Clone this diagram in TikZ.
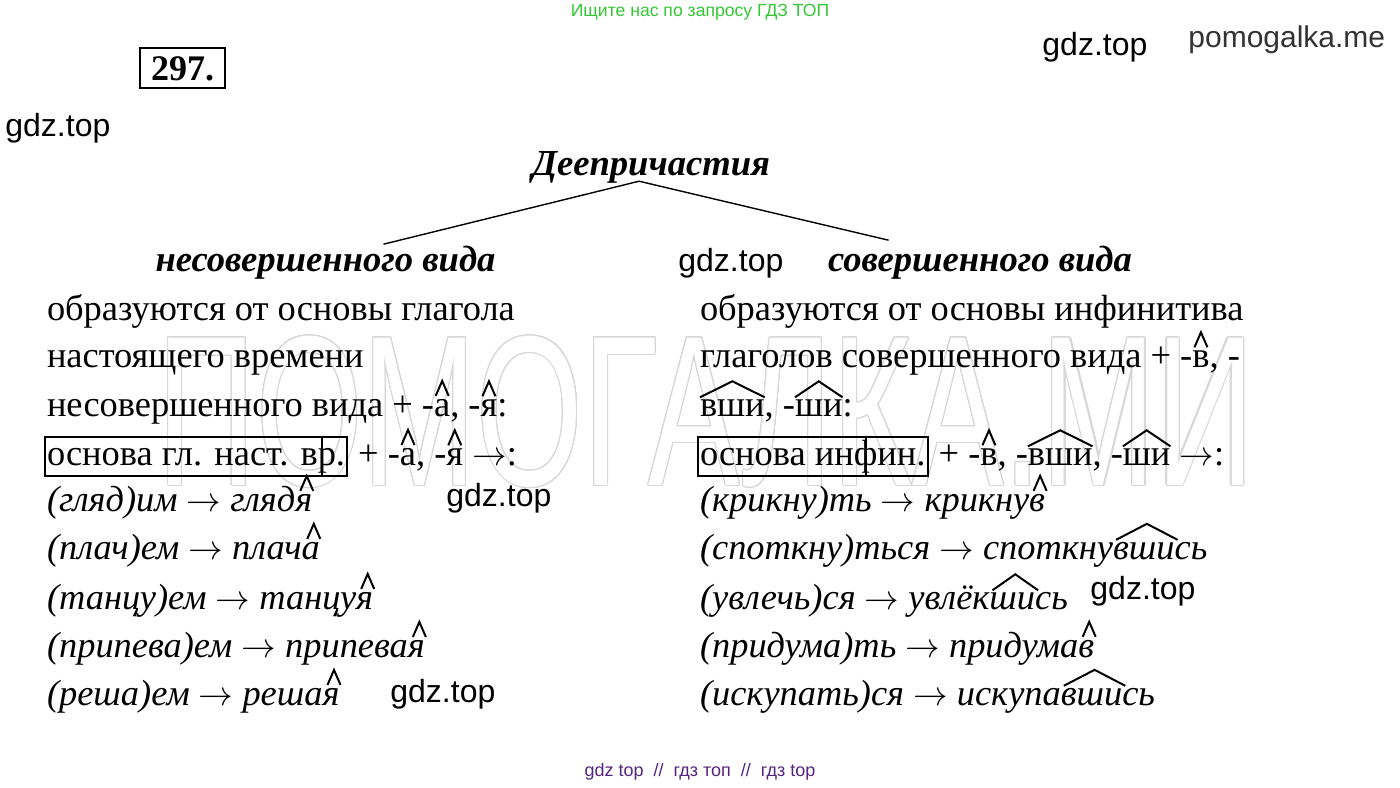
\documentclass[tikz,border=0pt]{standalone}
\usepackage{fontspec}
\setmainfont{Liberation Serif}
\newfontfamily\gdzfont{Liberation Sans}
\newfontfamily\wmfont[FakeStretch=0.64]{Liberation Sans}
\usepackage[copies]{contour}
\contourlength{0.55pt}
\contournumber{24}
\usepackage{tikz}
\usetikzlibrary{calc,fit,positioning}
\definecolor{gdzgreen}{RGB}{52,199,52}
\definecolor{gdzpurple}{RGB}{84,36,128}
\definecolor{wmgray}{RGB}{215,215,215}

% caret over a one-letter suffix
\newcommand\hatmark[2][0]{\draw[markline] ($(#2.north)+(#1,0)$) ++(-6.5,-3) -- ++(6.5,-15) -- ++(6.5,15);}
% roof over a longer suffix
\newcommand\roofmark[2][0]{\draw[markline] ($(#2.north west)+(#1,-2)$) -- ($(#2.north)+(#1,-18)$) -- ($(#2.north east)+(#1,-2)$);}
\newcommand\arr{$\rightarrow$}

\begin{document}
\begin{tikzpicture}[x=0.5pt,y=-0.5pt]
  \tikzstyle{body} = [font=\fontsize{18.2}{22}\selectfont,inner sep=0pt,outer sep=0pt,anchor=base west]
  \tikzstyle{ex} = [body,font=\fontsize{18.2}{22}\selectfont\itshape]
  \tikzstyle{head} = [font=\fontsize{18.3}{22}\selectfont\bfseries\itshape,inner sep=0pt,anchor=base]
  \tikzstyle{framed} = [body,text height=13pt,text depth=4.6pt]
  \tikzstyle{frame} = [draw,line width=1pt,inner sep=1pt]
  \tikzstyle{gdz} = [font=\gdzfont\fontsize{16}{18}\selectfont,inner sep=0pt,anchor=west]
  \tikzstyle{markline} = [line width=1pt]
  \tikzstyle{wm} = [font=\wmfont\fontsize{107}{110}\selectfont,text=white,inner sep=0pt]
  %
  \useasboundingbox (0,0) rectangle (1400,787);
  % Watermark behind the text.
  \node[wm] (wmark) at (706,412) {\contour{wmgray}{ПОМОГАЛКА.МИ}};
  % Site marks.
  \node[font=\gdzfont\fontsize{8.8}{10}\selectfont,text=gdzgreen,inner sep=0pt] (search) at (700,12) {Ищите нас по запросу ГДЗ ТОП};
  \node[font=\gdzfont\fontsize{9}{10}\selectfont,text=gdzpurple,inner sep=0pt] (footer) at (700,772) {gdz top \ // \ гдз топ \ // \ гдз top};
  \node[gdz] (gdzA) at (5,128) {gdz.top};
  \node[gdz] (gdzB) at (1042,47) {gdz.top};
  \node[gdz,font=\gdzfont\fontsize{15}{18}\selectfont,text=black!80] (pomo) at (1188,40) {pomogalka.me};
  \node[gdz] (gdzC) at (678,263) {gdz.top};
  \node[gdz] (gdzD) at (446,498) {gdz.top};
  \node[gdz] (gdzE) at (390,694) {gdz.top};
  \node[gdz] (gdzF) at (1090,591) {gdz.top};
  % Number of the exercise.
  \node[draw,line width=1.3pt,font=\fontsize{18}{20}\selectfont\bfseries,inner xsep=5.5pt,inner ysep=3.9pt,text height=12.2pt,text depth=0pt] (num) at (182.5,68) {297.};
  % Title and the two kinds.
  \node[head] (title) at (651,175) {Деепричастия};
  \node[head] (imperf) at (325.5,271) {несовершенного вида};
  \node[head] (perf) at (980,271) {совершенного вида};
  \coordinate (apex) at ($(title.south west)!0.45!(title.south east)+(0,-2)$);
  \coordinate (impEnd) at ($(imperf.north west)!0.67!(imperf.north east)+(0,-1)$);
  \coordinate (perfEnd) at ($(perf.north west)!0.2!(perf.north east)+(0,-5)$);
  \draw[line width=0.7pt] (impEnd) -- (apex) -- (perfEnd);
  % Left column.
  \node[body] (n1) at (47,320) {образуются от основы глагола};
  \node[body] (n2) at (47,367) {настоящего времени};
  \node[body] (n3a) at (47,416) {несовершенного вида + -};
  \node[body,base right=0pt of n3a] (n3b) {а};
  \node[body,base right=0pt of n3b] (n3c) {, -};
  \node[body,base right=0pt of n3c] (n3d) {я};
  \node[body,base right=0pt of n3d] (n3e) {:};
  \node[framed] (b1) at (47,465) {основа гл. наст. в};
  \node[framed,base right=0pt of b1] (b2) {р.};
  \node[frame,fit=(b1)(b2)] (box1) {};
  \coordinate (tick1) at ($(b2.west)+(4,0)$);
  \draw[line width=1pt] (tick1 |- box1.north) -- (tick1 |- box1.south);
  \node[body,base right=2pt of b2] (n4a) {\ + -};
  \node[body,base right=0pt of n4a] (n4b) {а};
  \node[body,base right=0pt of n4b] (n4c) {, -};
  \node[body,base right=0pt of n4c] (n4d) {я};
  \node[body,base right=0pt of n4d] (n4e) {\ \arr:};
  % Left examples.
  \node[ex] (e1a) at (47,511) {(гляд)им \arr{} гляд};
  \node[ex,base right=0pt of e1a] (e1b) {я};
  \node[ex] (e2a) at (47,559) {(плач)ем \arr{} плач};
  \node[ex,base right=0pt of e2a] (e2b) {а};
  \node[ex] (e3a) at (47,609) {(танцу)ем \arr{} танцу};
  \node[ex,base right=0pt of e3a] (e3b) {я};
  \node[ex] (e4a) at (47,657) {(припева)ем \arr{} припева};
  \node[ex,base right=0pt of e4a] (e4b) {я};
  \node[ex] (e5a) at (47,705) {(реша)ем \arr{} реша};
  \node[ex,base right=0pt of e5a] (e5b) {я};
  % Right column.
  \node[body] (r1) at (700,320) {образуются от основы инфинитива};
  \node[body] (r2a) at (700,367) {глаголов совершенного вида + -};
  \node[body,base right=0pt of r2a] (r2b) {в};
  \node[body,base right=0pt of r2b] (r2c) {, -};
  \node[body] (r3a) at (700,416) {вши};
  \node[body,base right=0pt of r3a] (r3b) {, -};
  \node[body,base right=0pt of r3b] (r3c) {ши};
  \node[body,base right=0pt of r3c] (r3d) {:};
  \node[framed] (c1) at (700,465) {основа ин};
  \node[framed,base right=0pt of c1] (c2) {ф};
  \node[framed,base right=0pt of c2] (c3) {ин.};
  \node[frame,fit=(c1)(c3)] (box2) {};
  \draw[line width=1pt] (c2.center |- box2.north) -- (c2.center |- box2.south);
  \node[body,base right=2pt of c3] (r4a) {\ + -};
  \node[body,base right=0pt of r4a] (r4b) {в};
  \node[body,base right=0pt of r4b] (r4c) {, -};
  \node[body,base right=0pt of r4c] (r4d) {вши};
  \node[body,base right=0pt of r4d] (r4e) {, -};
  \node[body,base right=0pt of r4e] (r4f) {ши};
  \node[body,base right=0pt of r4f] (r4g) {\ \arr:};
  % Right examples.
  \node[ex] (f1a) at (700,511) {(крикну)ть \arr{} крикну};
  \node[ex,base right=0pt of f1a] (f1b) {в};
  \node[ex] (f2a) at (700,559) {(споткну)ться \arr{} споткну};
  \node[ex,base right=0pt of f2a] (f2b) {вши};
  \node[ex,base right=0pt of f2b] (f2c) {сь};
  \node[ex] (f3a) at (700,609) {(увлечь)ся \arr{} увлёк};
  \node[ex,base right=0pt of f3a] (f3b) {ши};
  \node[ex,base right=0pt of f3b] (f3c) {сь};
  \node[ex] (f4a) at (700,657) {(придума)ть \arr{} придума};
  \node[ex,base right=0pt of f4a] (f4b) {в};
  \node[ex] (f5a) at (700,705) {(искупать)ся \arr{} искупа};
  \node[ex,base right=0pt of f5a] (f5b) {вши};
  \node[ex,base right=0pt of f5b] (f5c) {сь};
  % Suffix marks.
  \hatmark{n3b} \hatmark{n3d} \hatmark{n4b} \hatmark{n4d}
  \hatmark[3]{e1b} \hatmark[3]{e2b} \hatmark[3]{e3b} \hatmark[3]{e4b} \hatmark[3]{e5b}
  \hatmark{r2b} \roofmark{r3a} \roofmark{r3c}
  \hatmark{r4b} \roofmark{r4d} \roofmark{r4f}
  \hatmark[3]{f1b} \roofmark[3]{f2b} \roofmark[3]{f3b} \hatmark[3]{f4b} \roofmark[3]{f5b}
\end{tikzpicture}
\end{document}
